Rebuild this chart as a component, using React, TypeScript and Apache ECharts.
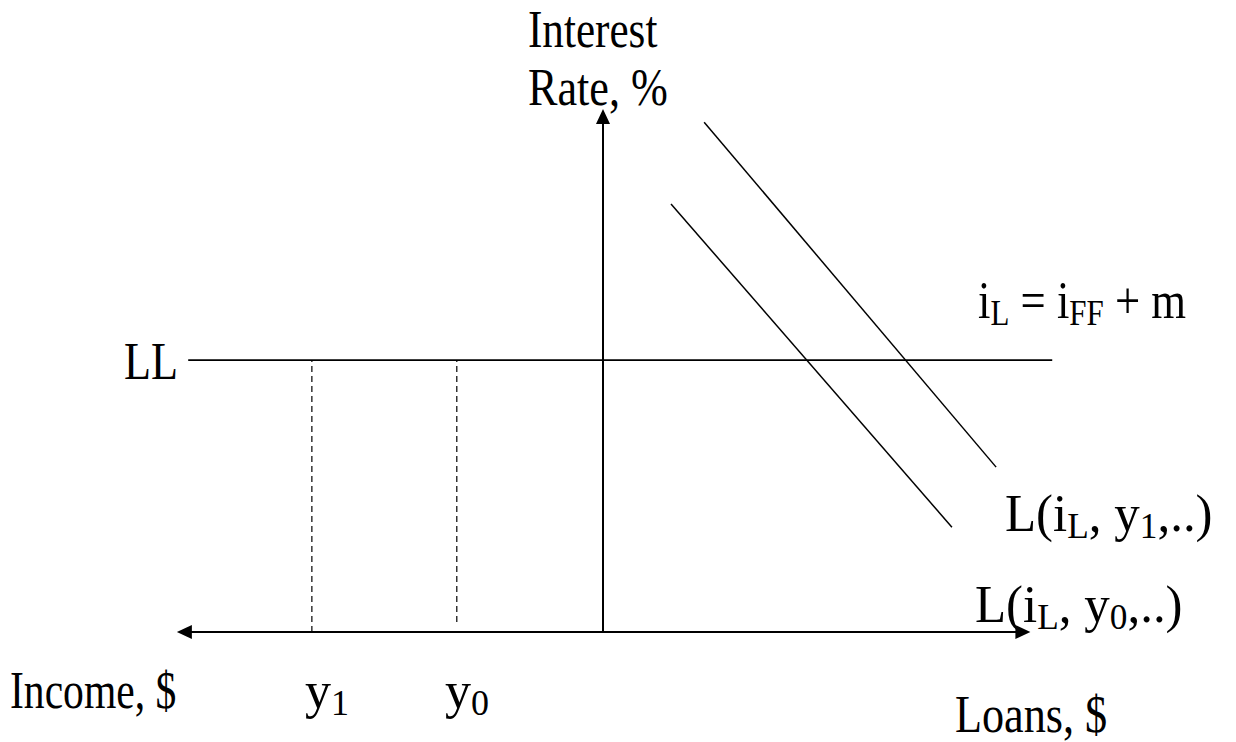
import { useEffect, useRef } from 'react';
import * as echarts from 'echarts';

// ---- data (x: left = income, right = loans; y: interest rate) ----
const LL_RATE = 6.25;
const LL_SPAN = [-9.76, 10.57];
const AXIS_H_SPAN = [-9.85, 9.88];
const AXIS_V_TOP = 11.85;
const INCOME_LEVELS = [-6.85, -3.44]; // y1, y0
const INCOME_DASH_BOTTOM = [0, 0.23];
const LOAN_CURVE_Y1 = [[2.38, 11.72], [9.25, 3.79]];
const LOAN_CURVE_Y0 = [[1.6, 9.84], [8.21, 2.41]];

const FONT = '"Liberation Serif", "Times New Roman", serif';
const MAIN = 52;
const SUB = 36;

const rich = {
  m: { fontFamily: FONT, fontSize: MAIN, lineHeight: 62, color: '#000' },
  s: { fontFamily: FONT, fontSize: SUB, lineHeight: 36, verticalAlign: 'bottom', color: '#000' },
  p: { fontFamily: FONT, fontSize: MAIN, lineHeight: 50, color: '#000' },
};

function txt(text: string, x: number, y: number, scaleX: number, align = 'left') {
  return {
    type: 'text',
    x,
    y,
    scaleX,
    silent: true,
    style: {
      text,
      rich,
      fontFamily: FONT,
      fontSize: MAIN,
      fill: '#000',
      align,
      verticalAlign: 'middle',
    },
  };
}

export default function App() {
  const ref = useRef<HTMLDivElement>(null);
  useEffect(() => {
    if (!ref.current) return;
    const chart = echarts.init(ref.current, undefined, { renderer: 'svg' });
    const black = '#000';
    const line = (data: number[][], width: number, type: any = 'solid') => ({
      type: 'line',
      data,
      symbol: 'none',
      silent: true,
      lineStyle: { color: black, width, type },
    });
    chart.setOption({
      animation: false,
      backgroundColor: '#fff',
      grid: { left: 8, top: 23, width: 1190, height: 696 },
      xAxis: { type: 'value', min: -14, max: 14, show: false },
      yAxis: { type: 'value', min: -2, max: 14, show: false },
      series: [
        line([[LL_SPAN[0], LL_RATE], [LL_SPAN[1], LL_RATE]], 1.8),
        line(LOAN_CURVE_Y1, 1.5),
        line(LOAN_CURVE_Y0, 1.5),
        line([[INCOME_LEVELS[0], INCOME_DASH_BOTTOM[0]], [INCOME_LEVELS[0], LL_RATE]], 1.2, [6, 4]),
        line([[INCOME_LEVELS[1], INCOME_DASH_BOTTOM[1]], [INCOME_LEVELS[1], LL_RATE]], 1.2, [6, 4]),
        {
          type: 'line',
          data: [],
          silent: true,
          markLine: {
            silent: true,
            animation: false,
            label: { show: false },
            lineStyle: { color: black, width: 2, type: 'solid' },
            symbolSize: [14, 15],
            data: [
              [
                { coord: [AXIS_H_SPAN[0], 0], symbol: 'triangle' },
                { coord: [AXIS_H_SPAN[1], 0], symbol: 'triangle' },
              ],
              [
                { coord: [0, 0], symbol: 'none' },
                { coord: [0, AXIS_V_TOP], symbol: 'triangle' },
              ],
            ],
          },
        },
      ],
      graphic: [
        txt('{p|Interest}', 528, 29, 0.83),
        txt('{p|Rate, %}', 528, 87, 0.85),
        txt('{p|LL}', 178, 361, 0.85, 'right'),
        txt('{m|i}{s|L}{m| = i}{s|FF}{m| + m}', 978, 300, 0.86),
        txt('{m|L(i}{s|L}{m|, y}{s|1}{m|,..)}', 1005, 513, 0.98),
        txt('{m|L(i}{s|L}{m|, y}{s|0}{m|,..)}', 975, 604, 0.98),
        txt('{p|Income, $}', 10, 690, 0.8),
        txt('{m|y}{s|1}', 305, 690, 1),
        txt('{m|y}{s|0}', 445, 690, 1),
        txt('{p|Loans, $}', 955, 714, 0.85),
      ],
    });
    return () => chart.dispose();
  }, []);
  return (
    <div
      ref={ref}
      style={{ position: 'fixed', left: 0, top: 0, width: 1236, height: 742, background: '#fff' }}
    />
  );
}
